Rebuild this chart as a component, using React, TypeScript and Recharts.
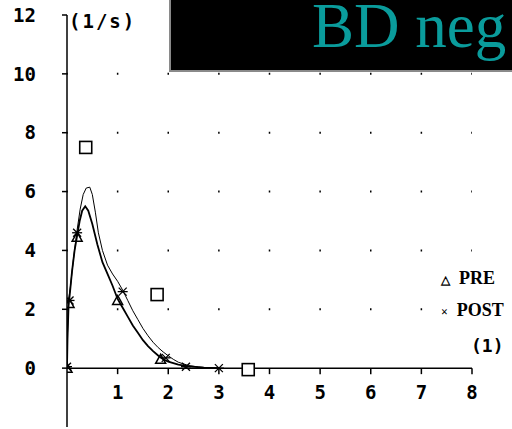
import React from "react";
import {
  ComposedChart,
  Line,
  Scatter,
  XAxis,
  YAxis,
  ReferenceLine,
} from "recharts";

// Flow-volume data (volume in l, flow in l/s)
const preCurve = [
  { x: 0, y: 0 }, { x: 0.01, y: 1.0 }, { x: 0.03, y: 2.1 }, { x: 0.06, y: 2.6 },
  { x: 0.1, y: 3.3 }, { x: 0.15, y: 4.0 }, { x: 0.2, y: 4.5 }, { x: 0.25, y: 5.0 },
  { x: 0.3, y: 5.35 }, { x: 0.36, y: 5.5 }, { x: 0.42, y: 5.35 }, { x: 0.5, y: 4.9 },
  { x: 0.6, y: 4.2 }, { x: 0.7, y: 3.6 }, { x: 0.8, y: 3.2 }, { x: 0.9, y: 2.8 },
  { x: 1.0, y: 2.35 }, { x: 1.1, y: 2.05 }, { x: 1.2, y: 1.75 }, { x: 1.3, y: 1.45 },
  { x: 1.4, y: 1.2 }, { x: 1.5, y: 0.95 }, { x: 1.6, y: 0.75 }, { x: 1.7, y: 0.58 },
  { x: 1.8, y: 0.43 }, { x: 1.9, y: 0.3 }, { x: 2.0, y: 0.22 }, { x: 2.2, y: 0.12 },
  { x: 2.4, y: 0.06 }, { x: 2.7, y: 0.02 }, { x: 3.0, y: 0 },
];

const postCurve = [
  { x: 0, y: 0 }, { x: 0.01, y: 1.2 }, { x: 0.03, y: 2.3 }, { x: 0.07, y: 2.8 },
  { x: 0.12, y: 3.6 }, { x: 0.2, y: 4.7 }, { x: 0.26, y: 5.4 }, { x: 0.32, y: 5.9 },
  { x: 0.38, y: 6.12 }, { x: 0.45, y: 6.15 }, { x: 0.5, y: 5.9 }, { x: 0.56, y: 5.3 },
  { x: 0.62, y: 4.6 }, { x: 0.7, y: 4.0 }, { x: 0.8, y: 3.5 }, { x: 0.9, y: 3.2 },
  { x: 1.0, y: 2.95 }, { x: 1.1, y: 2.65 }, { x: 1.2, y: 2.3 }, { x: 1.3, y: 1.95 },
  { x: 1.4, y: 1.65 }, { x: 1.5, y: 1.35 }, { x: 1.6, y: 1.1 }, { x: 1.7, y: 0.88 },
  { x: 1.8, y: 0.7 }, { x: 1.9, y: 0.55 }, { x: 2.0, y: 0.42 }, { x: 2.1, y: 0.3 },
  { x: 2.2, y: 0.2 }, { x: 2.4, y: 0.09 }, { x: 2.6, y: 0.04 }, { x: 2.8, y: 0.01 },
  { x: 3.0, y: 0 },
];

const preMarks = [
  { x: 0, y: 0 }, { x: 0.04, y: 2.2 }, { x: 0.2, y: 4.45 }, { x: 1.0, y: 2.3 }, { x: 1.85, y: 0.3 },
];
const postMarks = [
  { x: 0, y: 0.05 }, { x: 0.05, y: 2.3 }, { x: 0.2, y: 4.6 }, { x: 1.1, y: 2.6 },
  { x: 1.95, y: 0.35 }, { x: 2.35, y: 0.05 }, { x: 3.0, y: 0 },
];
const predicted = [
  { x: 0.37, y: 7.5 }, { x: 1.78, y: 2.5 }, { x: 3.58, y: -0.05 },
];

const xTicks = [1, 2, 3, 4, 5, 6, 7, 8];
const yTicks = [-2, 0, 2, 4, 6, 8, 10, 12];
const gridY = [2, 4, 6, 8, 10];

const X_MIN = 0, X_MAX = 8, Y_MIN = -2, Y_MAX = 12;
const W = 512, H = 429;
const M_TOP = 15, M_RIGHT = 40, AXIS_W = 67, XAXIS_H = 2;
const PLOT_LEFT = AXIS_W;
const PLOT_RIGHT = W - M_RIGHT;
const PLOT_TOP = M_TOP;
const PLOT_BOTTOM = H - XAXIS_H;
const Y_ZERO_PX = PLOT_BOTTOM - ((0 - Y_MIN) / (Y_MAX - Y_MIN)) * (PLOT_BOTTOM - PLOT_TOP);
const X_STEP_PX = (PLOT_RIGHT - PLOT_LEFT) / (X_MAX - X_MIN);

const MONO = "'DejaVu Sans Mono', monospace";

const XTick = (props: any) => {
  const { x, payload } = props;
  return (
    <g>
      <line x1={x} y1={Y_ZERO_PX} x2={x} y2={Y_ZERO_PX + 6} stroke="#000" strokeWidth={1.5} />
      <text x={x} y={Y_ZERO_PX + 31} textAnchor="middle" fontFamily={MONO} fontWeight="bold" fontSize={19} fill="#000">
        {payload.value}
      </text>
    </g>
  );
};

const Triangle = (props: any) => {
  const { cx, cy } = props;
  if (cx == null || cy == null) return null;
  const s = 5;
  return (
    <path d={`M${cx},${cy - s} L${cx + s},${cy + s * 0.8} L${cx - s},${cy + s * 0.8} Z`} fill="none" stroke="#000" strokeWidth={1.5} />
  );
};

const Cross = (props: any) => {
  const { cx, cy } = props;
  if (cx == null || cy == null) return null;
  const s = 4;
  return (
    <g stroke="#000" strokeWidth={1.3}>
      <line x1={cx - s} y1={cy - s} x2={cx + s} y2={cy + s} />
      <line x1={cx - s} y1={cy + s} x2={cx + s} y2={cy - s} />
      <line x1={cx - s - 1} y1={cy} x2={cx + s + 1} y2={cy} />
    </g>
  );
};

const Square = (props: any) => {
  const { cx, cy } = props;
  if (cx == null || cy == null) return null;
  return <rect x={cx - 6} y={cy - 6} width={12} height={12} fill="#fff" stroke="#000" strokeWidth={1.6} />;
};

export default function App() {
  return (
    <div style={{ position: "absolute", left: 0, top: 0, width: W, height: H, background: "#fff", overflow: "hidden" }}>
      <ComposedChart
        width={W}
        height={H}
        margin={{ top: M_TOP, right: M_RIGHT, bottom: 0, left: 0 }}
      >
        <XAxis
          dataKey="x"
          type="number"
          domain={[X_MIN, X_MAX]}
          ticks={xTicks}
          height={XAXIS_H}
          axisLine={false}
          tickLine={false}
          tick={<XTick />}
          allowDataOverflow
        />
        <YAxis
          dataKey="y"
          type="number"
          domain={[Y_MIN, Y_MAX]}
          ticks={yTicks}
          width={AXIS_W}
          axisLine={{ stroke: "#000", strokeWidth: 1.5 }}
          tickLine={{ stroke: "#000", strokeWidth: 1.5 }}
          tickSize={5}
          tickMargin={26}
          tick={{ fill: "#000", fontFamily: MONO, fontWeight: "bold", fontSize: 19 }}
          allowDataOverflow
        />
        {gridY.map((v) => (
          <ReferenceLine
            key={v}
            y={v}
            stroke="#000"
            strokeWidth={2}
            strokeDasharray={`1.5 ${X_STEP_PX - 1.5}`}
            strokeDashoffset={0.75}
          />
        ))}
        <ReferenceLine y={0} stroke="#000" strokeWidth={1.5} />
        <Line data={postCurve} dataKey="y" type="linear" stroke="#000" strokeWidth={1} dot={false} isAnimationActive={false} />
        <Line data={preCurve} dataKey="y" type="linear" stroke="#000" strokeWidth={1.8} dot={false} isAnimationActive={false} />
        <Scatter data={preMarks} dataKey="y" shape={<Triangle />} isAnimationActive={false} />
        <Scatter data={postMarks} dataKey="y" shape={<Cross />} isAnimationActive={false} />
        <Scatter data={predicted} dataKey="y" shape={<Square />} isAnimationActive={false} />
      </ComposedChart>

      {/* y-axis unit */}
      <div style={{ position: "absolute", left: 69, top: 11, fontFamily: MONO, fontWeight: "bold", fontSize: 19, letterSpacing: 2, color: "#000", lineHeight: "20px" }}>
        (1/s)
      </div>

      {/* legend */}
      <div style={{ position: "absolute", left: 441, top: 268, fontFamily: "'Liberation Serif', serif", fontWeight: "bold", fontSize: 18, color: "#000", lineHeight: "20px", whiteSpace: "nowrap" }}>
        <div><span style={{ fontSize: 12, marginRight: 9 }}>△</span>PRE</div>
        <div style={{ marginTop: 10 }}><span style={{ fontSize: 12, marginRight: 9 }}>×</span>POST</div>
        <div style={{ marginTop: 14, marginLeft: 30, fontFamily: MONO }}>(1)</div>
      </div>

      {/* title box */}
      <div style={{ position: "absolute", left: 169, top: 0, width: 341, height: 70, background: "#000", borderLeft: "2px solid #8a8a8a", borderBottom: "2px solid #8a8a8a" }}>
        <div style={{ position: "absolute", left: 141, top: 0, fontFamily: "'Liberation Serif', 'Times New Roman', serif", fontSize: 63, color: "#0a9c9c", whiteSpace: "nowrap", lineHeight: "52px" }}>
          BD neg
        </div>
      </div>
    </div>
  );
}
